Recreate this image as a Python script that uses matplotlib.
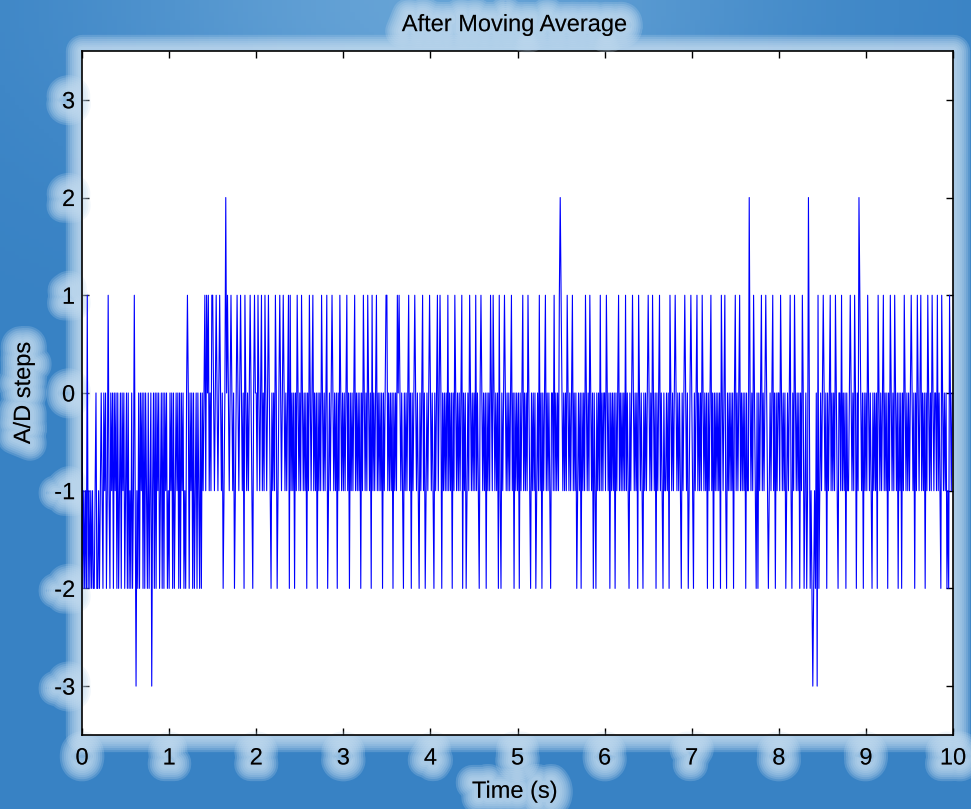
import numpy as np
import matplotlib
matplotlib.use('Agg')
import matplotlib.pyplot as plt
import matplotlib.patheffects as pe
from matplotlib.patches import Rectangle

# signal, one digit per sample, digit - 3 = A/D steps
fs = 100
level_offset = 3

sec0 = ["3121214121", "2121123112", "1232132312", "4213231323", "1312313231",
        "2313121312", "4202131323", "1313213123", "0231313231", "2313132312"]
sec1 = ["1323131232", "3131323121", "3431323131", "2313213132", "3424342324",
        "4323432343", "2312353432", "3432312343", "2343231432", "3234321343"]
sec2 = ["3243234232", "4323432132", "3243123432", "3432323414", "2323132432",
        "3243232313", "2432342323", "1323243232", "3412323432", "3231324323"]
sec3 = ["2323423132", "3234232323", "1324323243", "2314232342", "3232313234",
        "4232323132", "3243432321", "3232342313", "2343232132", "3423123234"]
sec4 = ["3232132342", "3431323232", "4232313243", "2323234132", "3123243232",
        "3242321343", "2323132324", "3243232314", "2132343232", "3234231323"]
sec5 = ["2313234232", "3243213232", "3123242313", "2342323213", "3242323245",
        "4323232432", "3234232312", "3231323243", "2324323132", "1323242323"]
sec6 = ["3243231323", "2313234232", "3232423213", "2343232314", "3232132323",
        "4323243231", "3234232132", "2323143232", "3432323213", "2343231234"]
sec7 = ["3213234232", "3243232313", "2342313232", "3231432342", "1323232313",
        "4232342323", "2313225323", "2432131323", "4232343212", "3234231323"]
sec8 = ["3243232312", "3234213243", "2323132431", "2312531210", "1213041232",
        "3432313234", "2323243213", "3242323132", "2343232431", "3254323132"]
sec9 = ["3243232132", "3231432323", "4232313243", "2324323132", "3132432323",
        "2343231324", "3234232313", "2432324323", "3242321432", "3231214323"]

codes = "".join(sec0 + sec1 + sec2 + sec3 + sec4 + sec5 + sec6 + sec7 + sec8 + sec9)
steps = np.array([int(c) - level_offset for c in codes])
t = np.arange(len(steps)) / fs

xticks = np.arange(0, 11, 1)
yticks = np.arange(-3, 4, 1)

halo = '#c4dcf0'
glow_widths = [24, 21, 18, 15, 12, 9, 6]
glow = [pe.Stroke(linewidth=w, foreground=halo, alpha=0.22, joinstyle='round', capstyle='round')
        for w in glow_widths] + [pe.Normal()]

plt.rcParams['font.family'] = ['Liberation Sans', 'DejaVu Sans']
plt.rcParams['axes.unicode_minus'] = False

fig = plt.figure(figsize=(9.71, 8.09), dpi=100)

# slide background
bg = fig.add_axes([0, 0, 1, 1], zorder=-5)
gx, gy = np.meshgrid(np.linspace(0, 1, 200), np.linspace(0, 1, 200))
light = np.exp(-((gx - 0.45) ** 2 / 0.12 + (gy - 0.0) ** 2 / 0.05))
c_dark = np.array([0.22, 0.51, 0.77])
c_light = np.array([0.40, 0.64, 0.84])
img = c_dark[None, None, :] * (1 - light[..., None]) + c_light[None, None, :] * light[..., None]
bg.imshow(img, extent=[0, 1, 0, 1], aspect='auto', origin='upper')
bg.set_axis_off()

ax = fig.add_axes([0.0845, 0.0915, 0.8970, 0.8455])

# soft light frame around the plot box
for w in glow_widths:
    fig.patches.append(Rectangle((0.0845, 0.0915), 0.8970, 0.8455, transform=fig.transFigure,
                                 fill=False, edgecolor=halo, linewidth=w, alpha=0.22,
                                 joinstyle='round', zorder=-1))

ax.plot(t, steps, color='#0000ff', linewidth=0.8)

ax.set_xlim(0, 10)
ax.set_ylim(-3.5, 3.5)
ax.set_xticks(xticks)
ax.set_yticks(yticks)
ax.tick_params(direction='in', length=5, width=1, top=True, right=True, labelsize=17)
ax.tick_params(axis='x', pad=9)
ax.tick_params(axis='y', pad=5)
for sp in ax.spines.values():
    sp.set_linewidth(1.2)

for lab in ax.get_xticklabels() + ax.get_yticklabels():
    lab.set_path_effects(glow)

ttl = ax.set_title('After Moving Average', fontsize=17, x=0.497, y=1.029, pad=0)
ttl.set_path_effects(glow)
xl = ax.set_xlabel('Time (s)', fontsize=17)
ax.xaxis.set_label_coords(0.497, -0.067)
xl.set_path_effects(glow)
yl = ax.set_ylabel('A/D steps', fontsize=17)
ax.yaxis.set_label_coords(-0.054, 0.5)
yl.set_path_effects(glow)

fig.savefig('out.png', dpi=100)
